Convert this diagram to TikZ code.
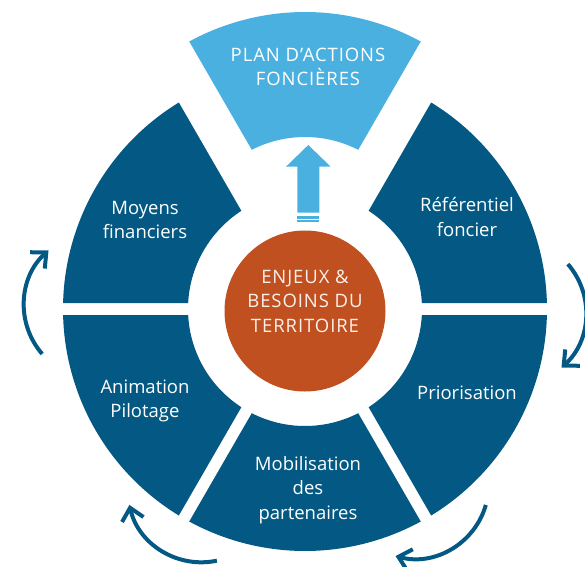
\documentclass[tikz,border=0pt]{standalone}
\usepackage{fontspec}
\setmainfont{Open Sans}
\newfontfamily\capsfont[LetterSpace=5]{Open Sans}
\usepackage{xcolor}
\usepackage{tikz}
\usetikzlibrary{arrows.meta,calc}

\definecolor{ringblue}{RGB}{3,89,131}
\definecolor{planblue}{RGB}{74,176,224}
\definecolor{enjeuxorange}{RGB}{193,80,32}

\begin{document}
\begin{tikzpicture}[x=1pt, y=1pt,
  seg/.style={fill=ringblue},
  lbl/.style={text=white, align=center, font=\fontsize{18.5}{24.5}\selectfont},
  caplbl/.style={align=center, font=\capsfont\fontsize{18.5}{24.5}\selectfont},
  cyc/.style={draw=ringblue, line width=4pt, -{Straight Barb[length=12pt,width=22pt]}}
]
\useasboundingbox (-305,-257) rectangle (280,309);

% ring: six 60 degree pieces, 6pt cut on each side of the spokes
\foreach \a in {30,-30,-90,-150,150}
  \fill[seg] (\a-28.58:242) arc[start angle=\a-28.58, end angle=\a+28.58, radius=242]
    -- (\a+27.06:117) arc[start angle=\a+27.06, end angle=\a-27.06, radius=117] -- cycle;

% top piece pulled out of the ring
\begin{scope}[shift={(0,55)}]
  \fill[planblue] (61.42:242) arc[start angle=61.42, end angle=118.58, radius=242]
    -- (117.06:117) arc[start angle=117.06, end angle=62.94, radius=117] -- cycle;
\end{scope}

% centre
\node[circle, fill=enjeuxorange, minimum size=161pt, inner sep=0pt] (enjeux) at (0,-2) {};
\node[caplbl, text=white!92!enjeuxorange] (enjeuxlbl) at (0,8) {ENJEUX \&\\BESOINS DU\\TERRITOIRE};

% arrow up to the plan
\fill[planblue] (-7.7,96.3) -- (-7.7,142.3) -- (-19,142.3) -- (3.3,164) -- (25.7,142.3)
  -- (14.3,142.3) -- (14.3,96.3) -- cycle;
\fill[planblue] (-7.7,90.3) rectangle (14.3,93);
\fill[planblue] (-7.7,87) rectangle (14.3,89);

% labels
\node[caplbl, text=white] (plan) at (3,242) {PLAN D’ACTIONS\\FONCIÈRES};
\node[lbl] (referentiel) at (162,92) {Référentiel\\foncier};
\node[lbl] (priorisation) at (162,-84) {Priorisation};
\node[lbl] (mobilisation) at (3,-181) {Mobilisation\\des\\partenaires};
\node[lbl] (animation) at (-160,-92) {Animation\\Pilotage};
\node[lbl] (moyens) at (-160,89) {Moyens\\financiers};

% turning arrows round the ring
\foreach \a [count=\i] in {179,-1,-58,-120} {
  \begin{scope}[rotate=\a]
    \coordinate (cyc\i) at ($(207,0)+(42:74)$);
    \draw[cyc] (cyc\i) arc[start angle=42, end angle=-47, radius=74];
  \end{scope}
}
\end{tikzpicture}
\end{document}
